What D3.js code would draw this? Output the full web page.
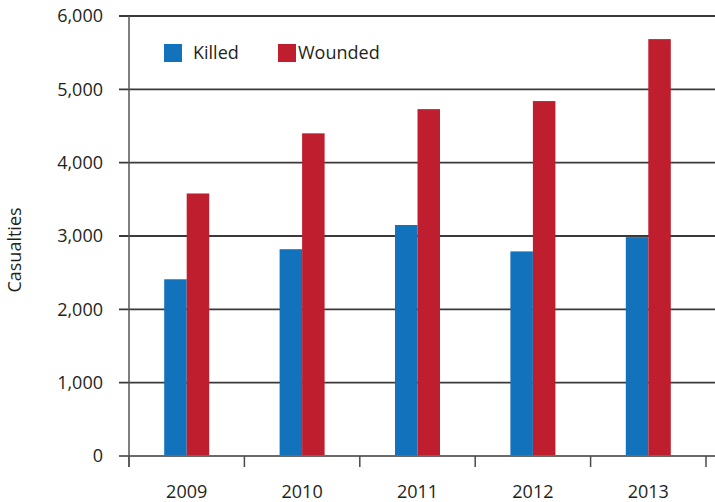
<!DOCTYPE html>
<html>
<head>
<meta charset="utf-8">
<script src="https://cdn.jsdelivr.net/npm/d3@7"></script>
<style>
  body { margin: 0; background: #fff; }
  text { font-family: "Open Sans", "Noto Sans", sans-serif; fill: #231f20; }
</style>
</head>
<body>
<div id="chart"></div>
<script>
const years = ["2009", "2010", "2011", "2012", "2013"];
const killed = [2410, 2820, 3150, 2790, 2985];
const wounded = [3580, 4400, 4730, 4840, 5685];
const seriesNames = ["Killed", "Wounded"];
const seriesColors = ["#1273bc", "#be1e2d"];
const yTicks = [0, 1000, 2000, 3000, 4000, 5000, 6000];

const W = 715, H = 502;
const margin = { top: 16, right: 9, bottom: 46, left: 129 };
const width = W - margin.left - margin.right;
const height = H - margin.top - margin.bottom;

const svg = d3.select("#chart")
  .append("svg")
  .attr("width", W)
  .attr("height", H);

const g = svg.append("g")
  .attr("transform", `translate(${margin.left},${margin.top})`);

const x = d3.scaleBand(years, [0, width]);
const y = d3.scaleLinear([0, 6000], [height, 0]);
const barW = 22.5;

// gridlines + y labels
g.selectAll(".grid")
  .data(yTicks.filter((t) => t > 0))
  .enter()
  .append("line")
  .attr("x1", -10)
  .attr("x2", W - margin.left)
  .attr("y1", (d) => y(d))
  .attr("y2", (d) => y(d))
  .attr("stroke", "#3a3a3a")
  .attr("stroke-width", 1.8);

g.selectAll(".ylab")
  .data(yTicks)
  .enter()
  .append("text")
  .attr("x", -26)
  .attr("y", (d) => y(d))
  .attr("dy", "0.36em")
  .attr("text-anchor", "end")
  .style("font-size", "18px")
  .text((d) => d3.format(",")(d));

// bars
const data = years.map((yr, i) => ({ yr, vals: [killed[i], wounded[i]] }));
const grp = g.selectAll(".yr")
  .data(data)
  .enter()
  .append("g")
  .attr("transform", (d) => `translate(${x(d.yr) + x.bandwidth() / 2},0)`);

grp.selectAll("rect")
  .data((d) => d.vals)
  .enter()
  .append("rect")
  .attr("x", (d, i) => (i - 1) * barW)
  .attr("y", (d) => y(d))
  .attr("width", barW)
  .attr("height", (d) => height - y(d))
  .attr("fill", (d, i) => seriesColors[i]);

// x axis
g.append("line")
  .attr("x1", -10)
  .attr("x2", W - margin.left)
  .attr("y1", height)
  .attr("y2", height)
  .attr("stroke", "#6a6a6a")
  .attr("stroke-width", 2);

g.selectAll(".xtick")
  .data(years.concat(["end"]))
  .enter()
  .append("line")
  .attr("x1", (d, i) => i * x.step())
  .attr("x2", (d, i) => i * x.step())
  .attr("y1", height)
  .attr("y2", height + 11)
  .attr("stroke", "#4a4a4a")
  .attr("stroke-width", 1.5);

g.selectAll(".xlab")
  .data(years)
  .enter()
  .append("text")
  .attr("x", (d) => x(d) + x.bandwidth() / 2)
  .attr("y", height + 42)
  .attr("text-anchor", "middle")
  .style("font-size", "18px")
  .text((d) => d);

// y axis line
g.append("line")
  .attr("x1", 0)
  .attr("x2", 0)
  .attr("y1", 0)
  .attr("y2", height + 11)
  .attr("stroke", "#555")
  .attr("stroke-width", 1.5);

// y title
svg.append("text")
  .attr("transform", "translate(21,250) rotate(-90)")
  .attr("text-anchor", "middle")
  .style("font-size", "18px")
  .text("Casualties");

// legend
const legX = [164, 278];
const leg = svg.selectAll(".leg")
  .data(seriesNames)
  .enter()
  .append("g")
  .attr("transform", (d, i) => `translate(${legX[i]},44)`);
leg.append("rect")
  .attr("width", 18)
  .attr("height", 18)
  .attr("fill", (d, i) => seriesColors[i]);
leg.append("text")
  .attr("x", (d, i) => (i === 0 ? 29 : 20))
  .attr("y", 9)
  .attr("dy", "0.36em")
  .style("font-size", "18px")
  .text((d) => d);
</script>
</body>
</html>
